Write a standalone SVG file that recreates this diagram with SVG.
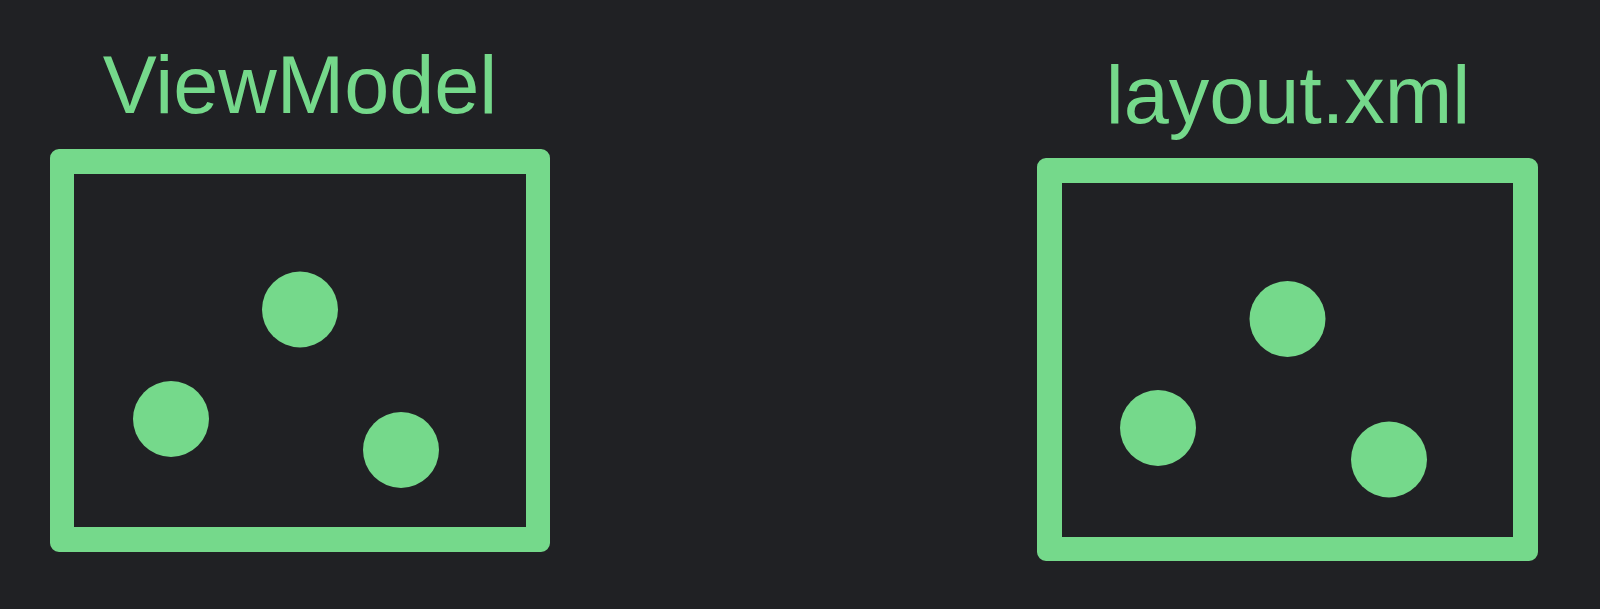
<svg xmlns="http://www.w3.org/2000/svg" width="1600" height="609" viewBox="0 0 1600 609">
<style>
.frame{fill:#75d98b;fill-rule:evenodd}
.dot{fill:#75d98b}
.lbl{fill:#75d98b;font-family:"Liberation Sans",Arial,sans-serif;font-size:81px;text-anchor:middle}
</style>
<rect width="1600" height="609" fill="#202124"/>
<g id="viewmodel">
<text class="lbl" x="300" y="113">ViewModel</text>
<path class="frame" d="M59,149 H541 A9,9 0 0 1 550,158 V543 A9,9 0 0 1 541,552 H59 A9,9 0 0 1 50,543 V158 A9,9 0 0 1 59,149 Z M74,174 V527 H526 V174 Z"/>
<circle class="dot" cx="300" cy="309.5" r="38"/>
<circle class="dot" cx="171" cy="419" r="38"/>
<circle class="dot" cx="401" cy="450" r="38"/>
</g>
<g id="layout">
<text class="lbl" x="1288" y="123">layout.xml</text>
<path class="frame" d="M1046,158 H1529 A9,9 0 0 1 1538,167 V552 A9,9 0 0 1 1529,561 H1046 A9,9 0 0 1 1037,552 V167 A9,9 0 0 1 1046,158 Z M1062,183 V537 H1513 V183 Z"/>
<circle class="dot" cx="1287.5" cy="319" r="38"/>
<circle class="dot" cx="1158" cy="428" r="38"/>
<circle class="dot" cx="1389" cy="459.5" r="38"/>
</g>
<g id="connectors"></g>
</svg>
